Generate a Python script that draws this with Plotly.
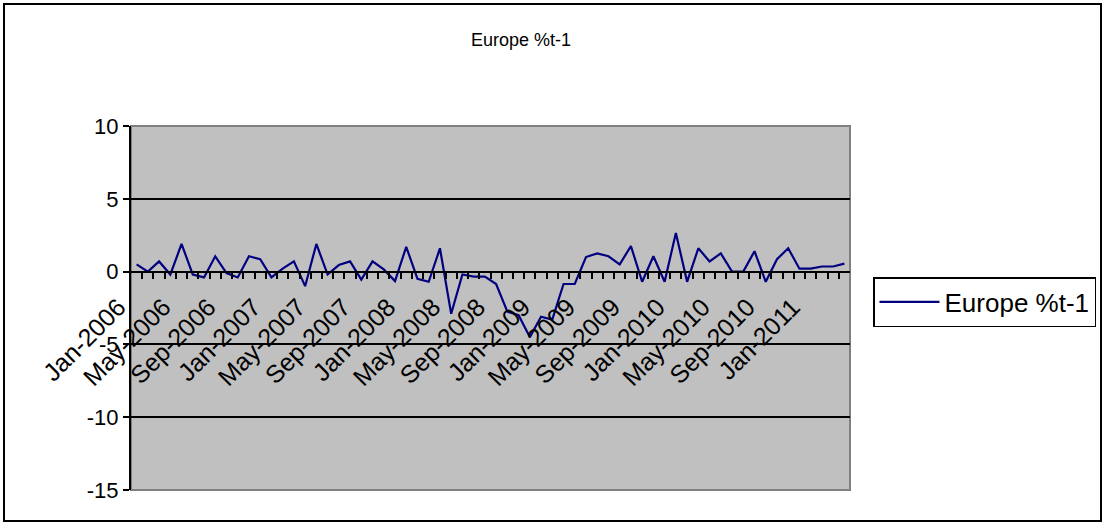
import plotly.graph_objects as go

months = ["Jan","Feb","Mar","Apr","May","Jun","Jul","Aug","Sep","Oct","Nov","Dec"]
categories = [f"{m}-{y}" for y in range(2006, 2012) for m in months][:64]

europe = [0.5, 0.0, 0.7, -0.2, 1.9, -0.2, -0.4, 1.05, -0.1, -0.4, 1.05, 0.85,
          -0.4, 0.2, 0.7, -1.0, 1.9, -0.2, 0.45, 0.7, -0.55, 0.7, 0.15, -0.65,
          1.7, -0.5, -0.7, 1.6, -2.9, -0.2, -0.35, -0.35, -0.85, -2.75, -3.0, -4.5,
          -3.1, -3.3, -0.85, -0.85, 1.0, 1.25, 1.05, 0.5, 1.75, -0.7, 1.05, -0.7,
          2.65, -0.7, 1.6, 0.7, 1.25, 0.0, 0.0, 1.4, -0.7, 0.85, 1.6, 0.2,
          0.2, 0.35, 0.35, 0.55]

series_name = "Europe %t-1"
label_step = 4
y_ticks = [-15, -10, -5, 0, 5, 10]
y_tick_text = ["-15", "-10", "-5", "0", "5", "10"]

x_idx = list(range(len(categories)))
tick_vals = x_idx[::label_step]
tick_text = categories[::label_step]

FONT = "Arial, Liberation Sans, sans-serif"

fig = go.Figure()
fig.add_trace(go.Scatter(x=x_idx, y=europe, mode="lines", name=series_name,
                         line=dict(color="#000080", width=2.2)))

L, R, T, B = 131, 850, 126, 490
W, H = 1106, 527
pw, ph = R - L, B - T

def px(xp):
    return (xp - L) / pw

def py(yp):
    return (B - yp) / ph

fig.update_layout(
    width=W, height=H,
    margin=dict(l=L, r=W - R, t=T, b=H - B, pad=0, autoexpand=False),
    paper_bgcolor="white",
    plot_bgcolor="#C0C0C0",
    font=dict(family=FONT, color="black", size=22),
    title=dict(text=series_name, x=521 / W, xanchor="center", y=1 - 40 / H,
               yanchor="middle", yref="container",
               font=dict(family=FONT, size=18, color="black")),
    showlegend=True,
    legend=dict(x=px(873), y=py(277), xanchor="left", yanchor="top",
                bordercolor="black", borderwidth=1.5, bgcolor="white",
                font=dict(family=FONT, size=26, color="black"),
                itemwidth=60, tracegroupgap=0),
    xaxis=dict(
        range=[-0.5, len(categories) - 0.5],
        tickmode="array", tickvals=tick_vals, ticktext=tick_text,
        tickangle=-45, ticks="", ticklen=0,
        ticklabelshift=-18, ticklabelstandoff=10,
        showgrid=False, zeroline=False,
        showline=True, linecolor="black", linewidth=2,
        anchor="free", position=15 / 25,
        minor=dict(tickmode="array",
                   tickvals=[i + 0.5 for i in x_idx[:-1]],
                   ticks="outside", ticklen=6, tickwidth=2, tickcolor="black",
                   showgrid=False),
        tickfont=dict(family=FONT, size=25, color="black"),
    ),
    yaxis=dict(
        range=[-15, 10], tickmode="array", tickvals=y_ticks, ticktext=y_tick_text,
        showgrid=True, gridcolor="black", gridwidth=2,
        zeroline=False,
        showline=True, linecolor="black", linewidth=2,
        ticks="outside", ticklen=6, tickwidth=2, tickcolor="black",
        tickfont=dict(family=FONT, size=22, color="black"),
    ),
    shapes=[
        dict(type="rect", xref="paper", yref="paper",
             x0=0, x1=1, y0=0, y1=1, layer="below",
             line=dict(color="#808080", width=2)),
        dict(type="rect", xref="paper", yref="paper",
             x0=px(4), x1=px(1101), y0=py(521), y1=py(4), layer="above",
             line=dict(color="black", width=2)),
    ],
)

fig.write_html("out.html", config={"displayModeBar": False},
               post_script="document.body.style.margin='0';document.body.style.padding='0';document.body.style.overflow='hidden';")
